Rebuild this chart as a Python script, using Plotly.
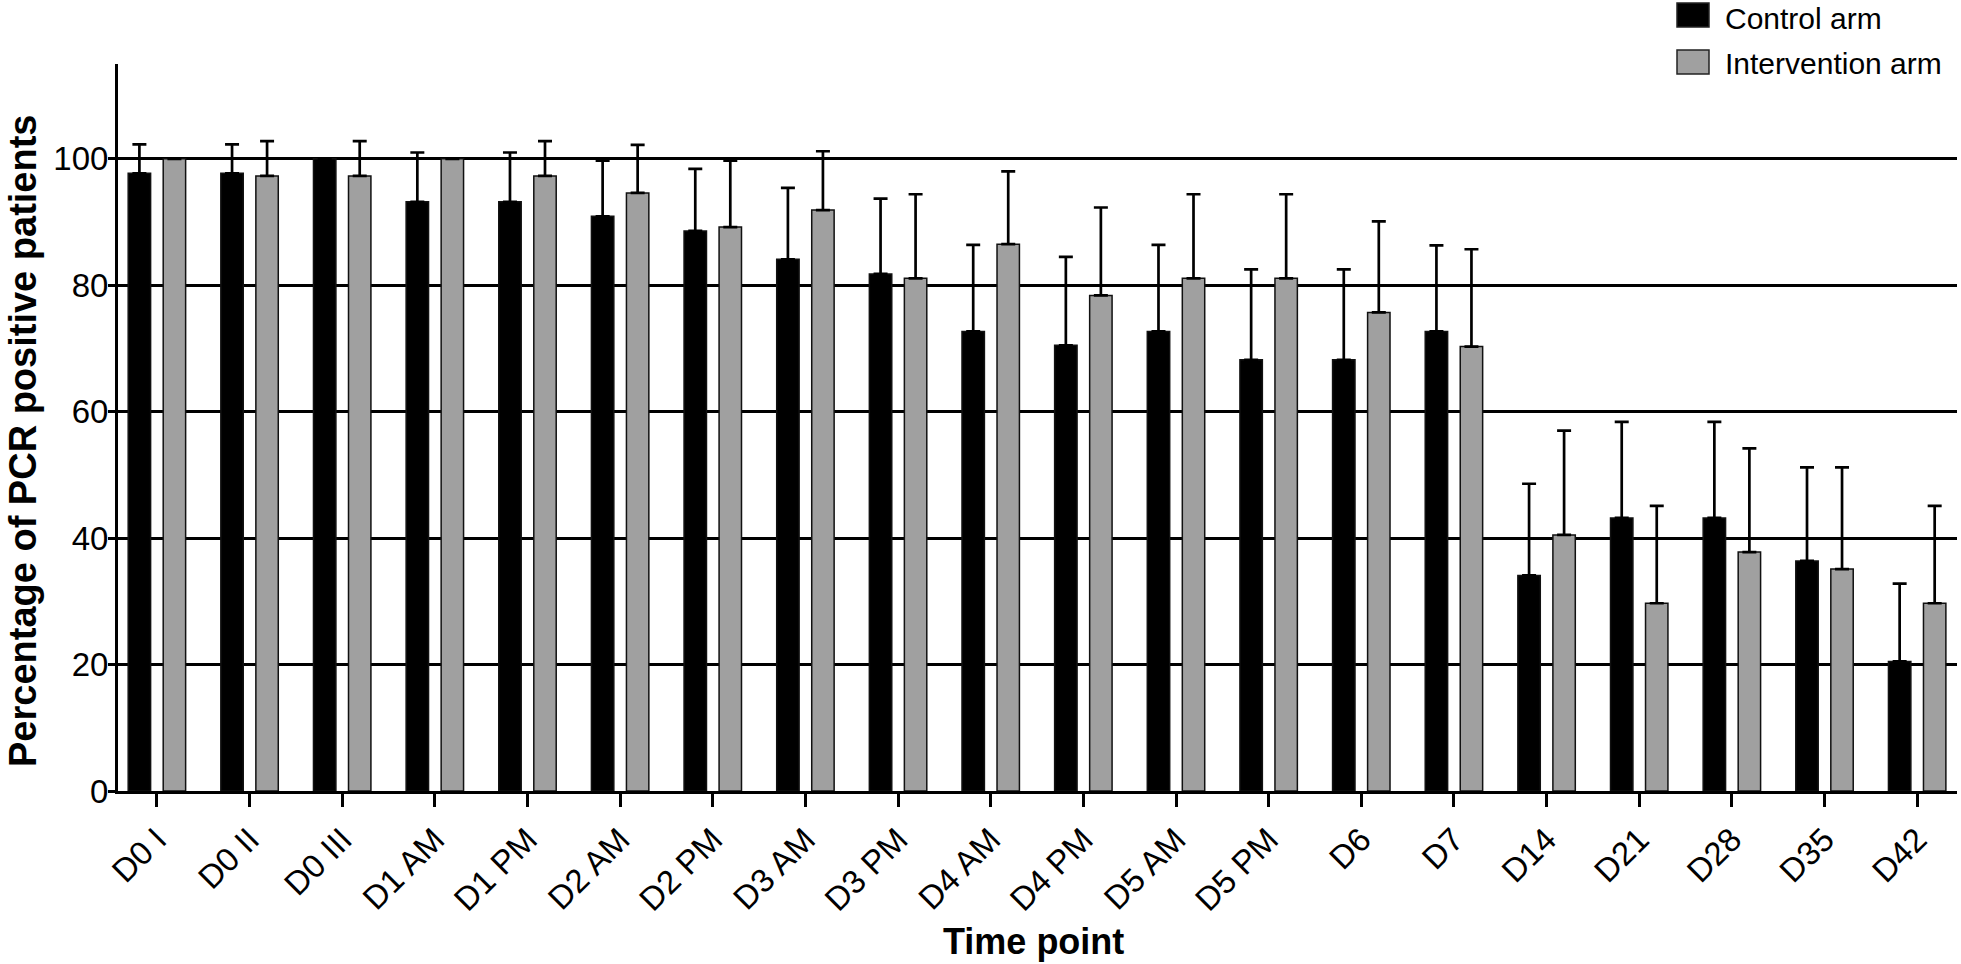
import plotly.graph_objects as go

categories = ["D0 I", "D0 II", "D0 III", "D1 AM", "D1 PM", "D2 AM", "D2 PM", "D3 AM",
              "D3 PM", "D4 AM", "D4 PM", "D5 AM", "D5 PM", "D6", "D7", "D14", "D21",
              "D28", "D35", "D42"]
control = [97.7, 97.7, 100, 93.2, 93.2, 90.9, 88.6, 84.1, 81.8, 72.7, 70.5, 72.7, 68.2,
           68.2, 72.7, 34.1, 43.2, 43.2, 36.4, 20.5]
control_err = [4.6, 4.6, 0, 7.8, 7.8, 8.8, 9.8, 11.3, 11.9, 13.7, 14.0, 13.7, 14.3,
               14.3, 13.6, 14.5, 15.2, 15.2, 14.8, 12.3]
intervention = [100, 97.3, 97.3, 100, 97.3, 94.6, 89.2, 91.9, 81.1, 86.5, 78.4, 81.1,
                81.1, 75.7, 70.3, 40.5, 29.7, 37.8, 35.1, 29.7]
intervention_err = [0, 5.5, 5.5, 0, 5.5, 7.6, 10.5, 9.3, 13.3, 11.5, 13.9, 13.3, 13.3,
                    14.4, 15.4, 16.5, 15.4, 16.4, 16.1, 15.4]
y_ticks = [0, 20, 40, 60, 80, 100]
legend_names = ["Control arm", "Intervention arm"]
colors = ["#000000", "#a0a0a0"]
x_title = "Time point"
y_title = "Percentage of PCR positive patients"

FONT = "Liberation Sans, Arial, Helvetica, sans-serif"

W, H = 1961, 964
PLOT_L, PLOT_R, PLOT_T, PLOT_B = 118, 1957, 64, 791   # page pixels
L, R, T, B = PLOT_L, W - PLOT_R, PLOT_T, H - PLOT_B

fig = go.Figure()
for name, vals, errs, col in [(legend_names[0], control, control_err, colors[0]),
                              (legend_names[1], intervention, intervention_err, colors[1])]:
    fig.add_trace(go.Bar(
        x=categories, y=vals, name=name, showlegend=False,
        marker=dict(color=col, line=dict(color="#111111", width=1.5)),
        error_y=dict(type="data", array=errs, arrayminus=[0] * len(errs),
                     symmetric=False, color="black", thickness=2.7, width=7),
    ))

fig.update_layout(
    width=W, height=H,
    margin=dict(l=L, r=R, t=T, b=B, autoexpand=False),
    paper_bgcolor="white", plot_bgcolor="white",
    barmode="group", bargap=0.244, bargroupgap=0.36,
    font=dict(family=FONT, color="black", size=32),
    showlegend=False,
)
fig.update_xaxes(
    range=[-0.42, 19.43], showline=True, linecolor="black", linewidth=3,
    ticks="outside", ticklen=13, tickwidth=3, tickcolor="black",
    tickangle=-45, tickfont=dict(size=33, family=FONT, color="black"),
    showgrid=False, zeroline=False, automargin=False,
)
fig.update_yaxes(
    range=[0, 115], tickvals=y_ticks, showline=True, linecolor="black", linewidth=3,
    ticks="outside", ticklen=7, tickwidth=2.5, tickcolor="black",
    tickfont=dict(size=33, family=FONT, color="black"), ticklabelstandoff=-7,
    showgrid=True, gridcolor="black", gridwidth=2.5, zeroline=False, automargin=False,
)

pw = PLOT_R - PLOT_L
ph = PLOT_B - PLOT_T
def px2x(px):
    return (px - PLOT_L) / pw
def py2y(py):
    return (PLOT_B - py) / ph

# axis titles
fig.add_annotation(xref="paper", yref="paper", x=px2x(1033), y=py2y(963),
                   text="<b>" + x_title + "</b>", showarrow=False,
                   xanchor="center", yanchor="bottom", borderpad=0,
                   font=dict(size=36, family=FONT, color="black"))
fig.add_annotation(xref="paper", yref="paper", x=px2x(1), y=py2y(441),
                   text="<b>" + y_title + "</b>", showarrow=False, textangle=-90,
                   xanchor="left", yanchor="middle", borderpad=0,
                   font=dict(size=38, family=FONT, color="black"))

# manual legend
legend_boxes = [(3, 27), (50, 74)]
legend_text_tops = [1, 46]
for (y0, y1), ty, col, name in zip(legend_boxes, legend_text_tops, colors, legend_names):
    fig.add_shape(type="rect", xref="paper", yref="paper",
                  x0=px2x(1677), x1=px2x(1709), y0=py2y(y1), y1=py2y(y0),
                  fillcolor=col, line=dict(color="#222222", width=1.5))
    fig.add_annotation(xref="paper", yref="paper", x=px2x(1724), y=py2y(ty),
                       text=name, showarrow=False, xanchor="left", yanchor="top",
                       borderpad=0, font=dict(size=30, family=FONT, color="black"))

fig.write_html("out.html", config={"displayModeBar": False},
               post_script="document.body.style.margin='0';")
